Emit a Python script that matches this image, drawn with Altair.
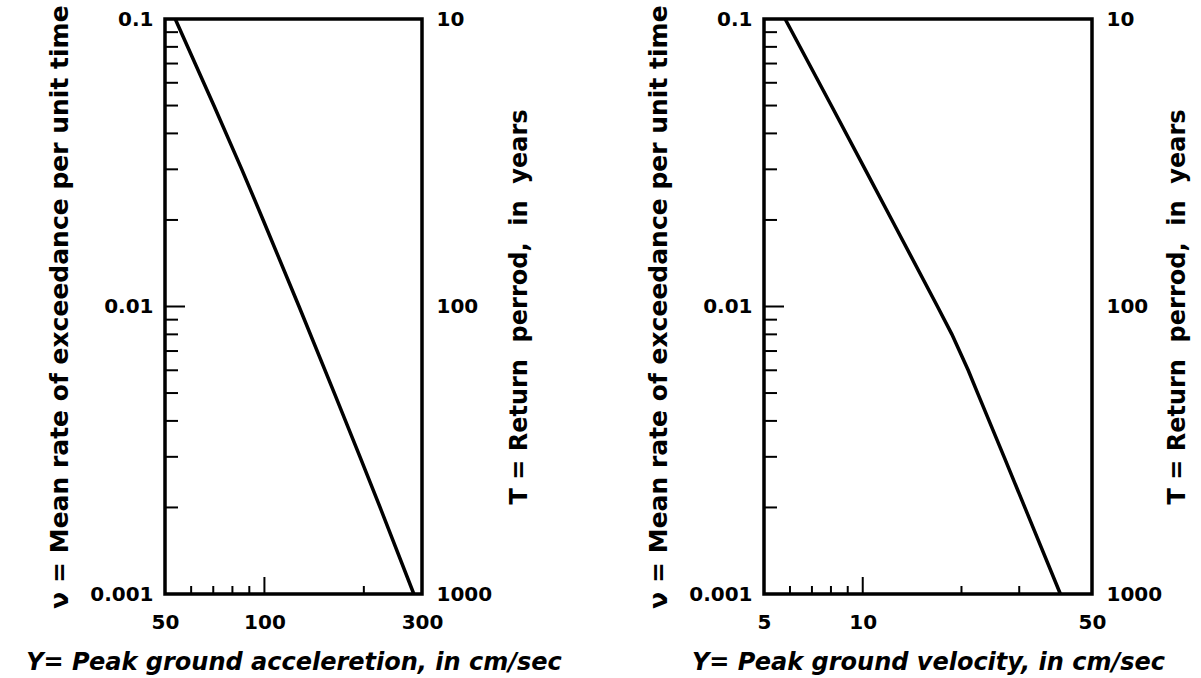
import altair as alt
import pandas as pd

# ---- data ----
nu_pga = [0.1, 0.05, 0.03, 0.02, 0.01, 0.005, 0.003, 0.002, 0.001]
pga = [53.7, 70.3, 85.4, 99.1, 127.3, 162.8, 194.7, 224, 283.4]

nu_pgv = [0.1, 0.05, 0.03, 0.02, 0.01, 0.008, 0.006, 0.005, 0.003, 0.002, 0.001]
pgv = [5.8, 8.02, 10.17, 12.27, 16.9, 18.7, 20.97, 22.4, 26.97, 31.2, 40.05]

nu_labels = [0.1, 0.01, 0.001]
T_labels = [10, 100, 1000]
nu_minor = [0.002, 0.003, 0.004, 0.005, 0.006, 0.007, 0.008, 0.009,
            0.02, 0.03, 0.04, 0.05, 0.06, 0.07, 0.08, 0.09]
nu_mid = [0.01]

pga_labels = [50, 100, 300]
pga_minor = [60, 70, 80, 90, 200]
pga_mid = [100]

pgv_labels = [5, 10, 50]
pgv_minor = [6, 7, 8, 9, 20, 30]
pgv_mid = [10]

Y_TITLE = "\u03bd = Mean rate of exceedance per unit time"
T_TITLE = "T = Return\u00a0 perrod,\u00a0 in\u00a0 years"

H = 575
FONT = "DejaVu Sans"


def panel(xs, nus, xdomain, xlabels, xminor, xmid, xtitle, width, t_pad):
    df = pd.DataFrame({"x": xs, "nu": nus})
    xscale = alt.Scale(type="log", domain=xdomain)
    yscale = alt.Scale(type="log", domain=[0.001, 0.1])
    xaxis = alt.Axis(values=xlabels, format="~g", title=xtitle,
                     labelFlush=False, labelOverlap=False, labelPadding=18,
                     titlePadding=18, titleFontStyle="italic", titleFontSize=24)
    curve = alt.Chart(df).mark_line(color="black", strokeWidth=3.5).encode(
        x=alt.X("x:Q", scale=xscale, axis=xaxis),
        y=alt.Y("nu:Q", scale=yscale,
                axis=alt.Axis(orient="left", values=nu_labels, format="~g",
                              title=Y_TITLE, titleFontSize=25,
                              labelPadding=12, titlePadding=17)),
    )
    ghost = alt.Chart(df).transform_calculate(T="1/datum.nu").mark_line(
        strokeOpacity=0).encode(
        x=alt.X("x:Q", scale=xscale, axis=xaxis),
        y=alt.Y("T:Q", scale=alt.Scale(type="log", domain=[10, 1000], reverse=True),
                axis=alt.Axis(orient="right", values=T_labels, format="d",
                              title=T_TITLE, titleAngle=270, labelPadding=14,
                              titlePadding=t_pad)),
    )
    ymin = alt.Chart(pd.DataFrame({"nu": nu_minor})).mark_rule(
        color="black", strokeWidth=2).encode(
        y=alt.Y("nu:Q", scale=yscale, axis=None),
        x=alt.value(0), x2=alt.value(13))
    ymid = alt.Chart(pd.DataFrame({"nu": nu_mid})).mark_rule(
        color="black", strokeWidth=2).encode(
        y=alt.Y("nu:Q", scale=yscale, axis=None),
        x=alt.value(0), x2=alt.value(20))
    xmin = alt.Chart(pd.DataFrame({"x": xminor})).mark_rule(
        color="black", strokeWidth=2).encode(
        x=alt.X("x:Q", scale=xscale, axis=xaxis),
        y=alt.value(H), y2=alt.value(H - 8))
    xmd = alt.Chart(pd.DataFrame({"x": xmid})).mark_rule(
        color="black", strokeWidth=2).encode(
        x=alt.X("x:Q", scale=xscale, axis=xaxis),
        y=alt.value(H), y2=alt.value(H - 17))
    return alt.layer(curve, ghost, ymin, ymid, xmin, xmd).resolve_scale(
        y="independent").properties(width=width, height=H)


left = panel(pga, nu_pga, [50, 300], pga_labels, pga_minor, pga_mid,
             "Y= Peak ground acceleretion, in cm/sec", 257, 40)
right = panel(pgv, nu_pgv, [5, 50], pgv_labels, pgv_minor, pgv_mid,
              "Y= Peak ground velocity, in cm/sec", 328, 28)

chart = alt.hconcat(left, right, spacing=80).properties(
    padding={"left": 23, "top": 3, "right": 2, "bottom": 2},
    background="white",
).configure_axis(
    labelFont=FONT, labelFontWeight="bold", labelFontSize=20, labelColor="black",
    titleFont=FONT, titleFontWeight="bold", titleFontSize=24, titleColor="black",
    grid=False, domain=False, ticks=False,
).configure_view(stroke="black", strokeWidth=3.5)

chart.save("out.html", embed_options={"renderer": "svg", "actions": False})
